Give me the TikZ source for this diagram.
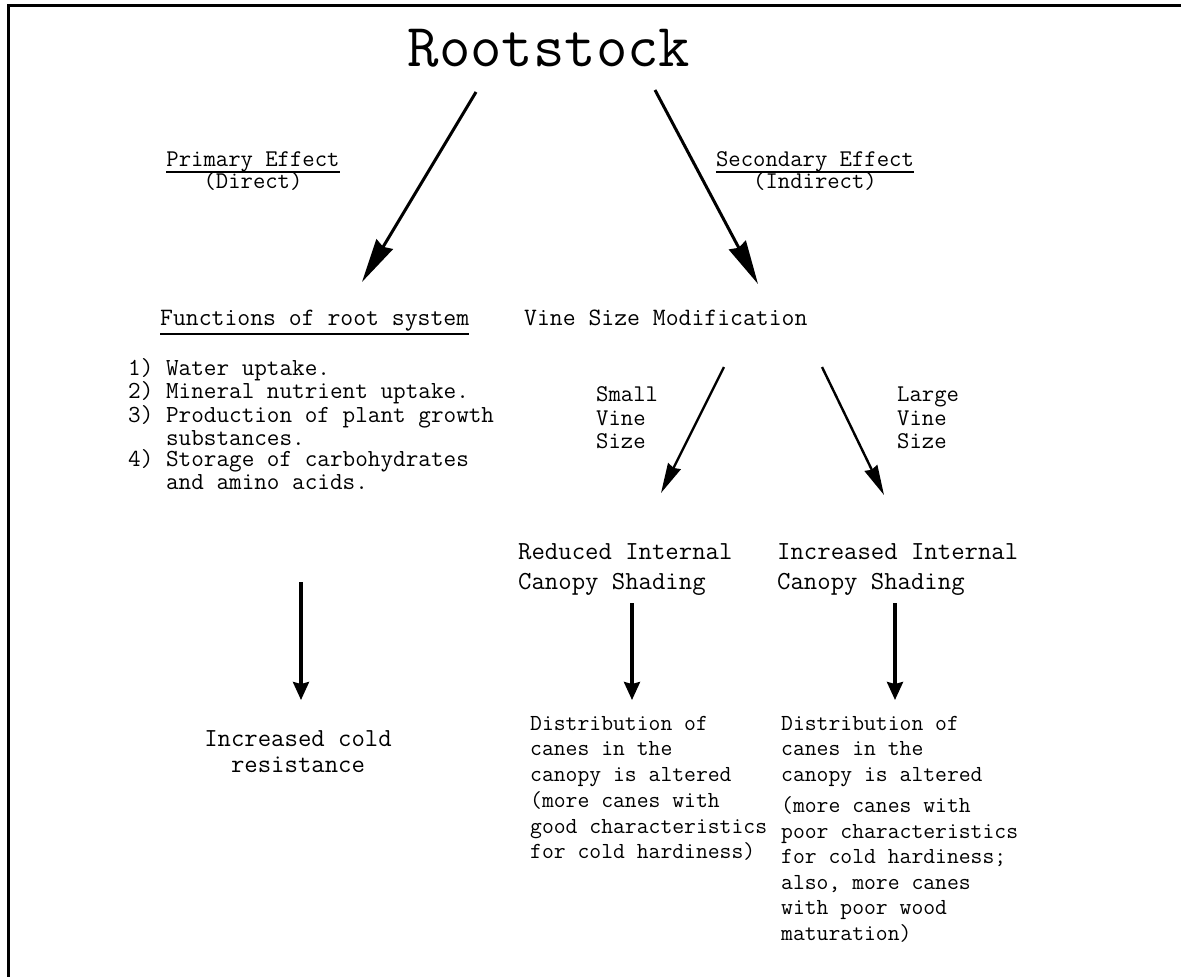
\documentclass[tikz,border=0pt]{standalone}
\usepackage{fontspec}
\usetikzlibrary{arrows.meta}
\newcommand\myfs[2]{\fontsize{#1}{#2}\selectfont}
\tikzset{
  txt/.style={inner sep=0pt, align=left, anchor=north west},
  lbl/.style={inner sep=0pt, anchor=base, font=\ttfamily\myfs{24}{24}},
  bigarrow/.style={line width=3pt, -{Stealth[length=44pt,width=19pt,inset=3pt]}},
  smallarrow/.style={line width=2.4pt, -{Stealth[length=30pt,width=14pt,inset=2pt]}},
  downarrow/.style={line width=3.2pt, -{Stealth[length=18pt,width=16pt,inset=2pt]}},
  uline/.style={line width=1.4pt}
}
\begin{document}
\begin{tikzpicture}[x=1pt,y=-1pt]
\useasboundingbox (0,0) rectangle (1181,977);
% frame
\draw[line width=3pt] (8,977) -- (8,5) -- (1181,5);

% title
\node[inner sep=0pt, anchor=base, font=\ttfamily\myfs{61}{61}] (root) at (549,66) {Rootstock};

% effect labels
\node[lbl] (pe) at (253,166) {Primary Effect};
\node[lbl] (pd) at (253,188) {(Direct)};
\draw[uline] ([yshift=-6pt]pe.base west) -- ([yshift=-6pt]pe.base east);
\node[lbl] (se) at (815,166) {Secondary Effect};
\node[lbl] (sd) at (815,188) {(Indirect)};
\draw[uline] ([yshift=-6pt]se.base west) -- ([yshift=-6pt]se.base east);

% level 2
\node[inner sep=0pt, anchor=base west, font=\ttfamily\myfs{25}{25}] (func) at (160,325) {Functions of root system};
\draw[line width=2pt] ([yshift=-9pt]func.base west) -- ([yshift=-9pt]func.base east);
\node[inner sep=0pt, anchor=base west, font=\ttfamily\myfs{25}{25}] (vine) at (524,325) {Vine Size Modification};

\node[txt, font=\ttfamily\myfs{24.5}{20.6}] (list) at (128,358) {\vphantom{(}1) Water uptake.\\
2) Mineral nutrient uptake.\\
3) Production of plant growth\\
\phantom{3) }substances.\\
4) Storage of carbohydrates\\
\phantom{4) }and amino acids.};

\node[txt, font=\ttfamily\myfs{24}{23.5}] (small) at (596,385) {\vphantom{(}Small\\Vine\\Size};
\node[txt, font=\ttfamily\myfs{24}{23.5}] (large) at (897,385) {\vphantom{(}Large\\Vine\\Size};

% level 3
\node[txt, font=\ttfamily\myfs{26}{30}] (red) at (518,541.5) {\vphantom{(}Reduced Internal\\Canopy Shading};
\node[txt, font=\ttfamily\myfs{26}{30}] (inc) at (777,541.5) {\vphantom{(}Increased Internal\\Canopy Shading};

% level 4
\node[txt, align=center, anchor=north, font=\ttfamily\myfs{26}{26}] (cold) at (298,728.5) {\vphantom{(}Increased cold\\resistance};
\node[txt, font=\ttfamily\myfs{23}{25.5}] (distL) at (530,714) {\vphantom{(}Distribution of\\
canes in the\\
canopy is altered\\[1pt]
(more canes with\\
good characteristics\\
for cold hardiness)};
\node[txt, font=\ttfamily\myfs{23}{25.5}] (distR) at (781,714) {\vphantom{(}Distribution of\\
canes in the\\
canopy is altered\\[6pt]
(more canes with\\
poor characteristics\\
for cold hardiness;\\
also, more canes\\
with poor wood\\
maturation)};

% arrow end points
\coordinate (a1s) at (476,92);  \coordinate (a1e) at (362,282);
\coordinate (a2s) at (655,90);  \coordinate (a2e) at (758,284);
\coordinate (a3s) at (724,367); \coordinate (a3e) at (661,493);
\coordinate (a4s) at (822,367); \coordinate (a4e) at (884,495);
\coordinate (a5s) at (301,582); \coordinate (a5e) at (301,700);
\coordinate (a6s) at (632,603); \coordinate (a6e) at (632,700);
\coordinate (a7s) at (895,603); \coordinate (a7e) at (895,700);

\draw[bigarrow] (a1s) -- (a1e);
\draw[bigarrow] (a2s) -- (a2e);
\draw[smallarrow] (a3s) -- (a3e);
\draw[smallarrow] (a4s) -- (a4e);
\draw[downarrow] (a5s) -- (a5e);
\draw[downarrow] (a6s) -- (a6e);
\draw[downarrow] (a7s) -- (a7e);
\end{tikzpicture}
\end{document}
